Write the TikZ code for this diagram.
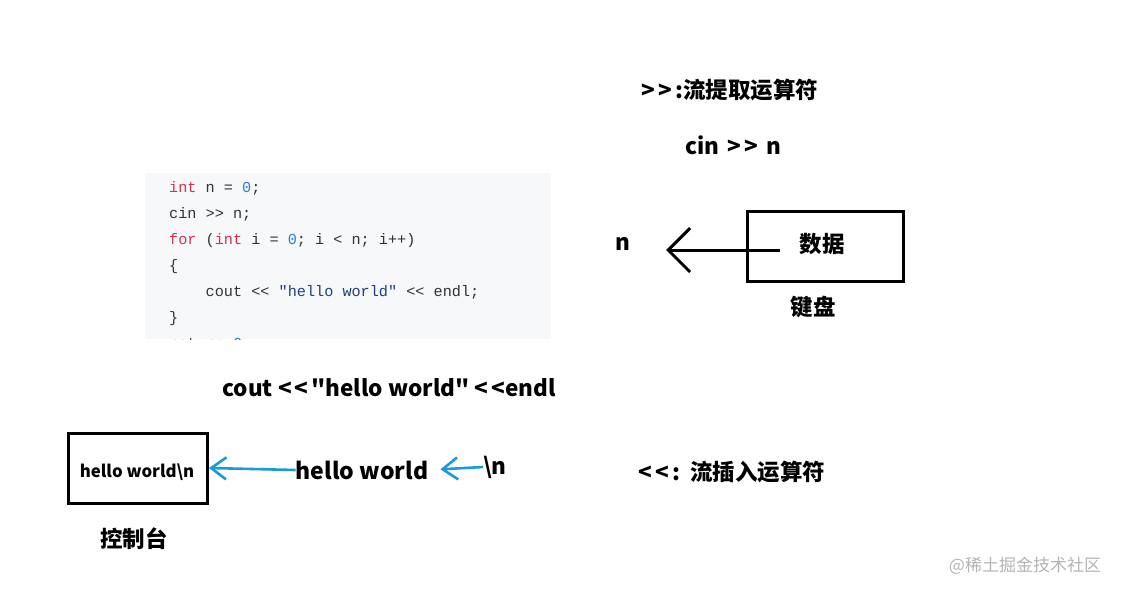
\documentclass[tikz,border=0pt]{standalone}
\usepackage{fontspec}
\setmainfont{Noto Sans CJK SC}[Ligatures=TeXOff]
\setmonofont{Liberation Mono}
\usetikzlibrary{arrows.meta}
\definecolor{kwred}{HTML}{D3334F}
\definecolor{numblue}{HTML}{2A7FD4}
\definecolor{strnavy}{HTML}{1F3F7A}
\definecolor{codegray}{HTML}{333333}
\definecolor{codebg}{HTML}{F6F8FA}
\definecolor{arrowblue}{HTML}{1B9AD8}
\definecolor{markgray}{HTML}{B4B4B4}
\newcommand{\cKw}[1]{\textcolor{kwred}{#1}}
\newcommand{\cNum}[1]{\textcolor{numblue}{#1}}
\newcommand{\cStr}[1]{\textcolor{strnavy}{#1}}
\newcommand{\lblFont}[1]{\fontsize{#1}{#1}\selectfont\bfseries}
\newcommand{\gt}{>\kern3pt}
\newcommand{\lt}{<\kern3pt}

\begin{document}
\begin{tikzpicture}[x=1pt,y=-1pt]
\tikzset{
  lbl/.style={inner sep=0pt, font=\lblFont{22.5}},
  codeline/.style={anchor=base west, inner sep=0pt, text=codegray, font=\fontsize{15.2}{15.2}\selectfont\ttfamily},
  framebox/.style={draw, line width=3pt, inner sep=0pt},
  blackarrow/.style={line width=3pt, -{Straight Barb[length=22pt, width=44pt, line width=3pt]}},
  bluearrow/.style={draw=arrowblue, line width=2.6pt, -{Straight Barb[length=15pt, width=22pt, line width=2.6pt, arrowblue]}}
}
\useasboundingbox[fill=white] (0,0) rectangle (1124,594);
% code listing
\fill[codebg] (145,173) rectangle (551,339);
\node[codeline] (ln1) at (169,192) {\cKw{int} n = \cNum{0};};
\node[codeline] (ln2) at (169,218) {cin >> n;};
\node[codeline] (ln3) at (169,244) {\cKw{for} (\cKw{int} i = \cNum{0}; i < n; i++)};
\node[codeline] (ln4) at (169,270) {\{};
\node[codeline] (ln5) at (169,296) {\ \ \ \ cout << \cStr{"hello world"} << endl;};
\node[codeline] (ln6) at (169,322) {\}};
\begin{scope}
\clip (145,173) rectangle (551,339);
\node[codeline] (ln7) at (169,348) {return \cNum{0};};
\end{scope}
% extraction
\node[lbl] (extract) at (730,90) {\gt\gt:流提取运算符};
\node[lbl] (cinexpr) at (733,145) {cin\kern3pt\ \gt>\kern3pt\ n};
\node[framebox, minimum width=156pt, minimum height=70pt] (data) at (825,246) {};
\node[lbl] (datatext) at (822,244) {数据};
\node[lbl] (keyboard) at (813,307) {键盘};
\node[lbl] (nvar) at (623,244) {n};
\coordinate (datastart) at (780,250);
\coordinate (ntip) at (666,250);
\draw[blackarrow] (datastart) -- (ntip);
% insertion
\node[lbl] (coutexpr) at (389,388) {cout \lt\lt"hello world" \lt<endl};
\node[framebox, minimum width=139pt, minimum height=70pt] (console) at (138,468) {};
\node[lbl, font=\lblFont{16.8}] (context) at (137,472) {hello world\textbackslash n};
\node[lbl] (consolename) at (134,539) {控制台};
\node[lbl, font=\lblFont{23}] (hw) at (362,470) {hello world};
\node[lbl] (newline) at (495,467) {\textbackslash n};
\draw[bluearrow] (hw.west) -- (console.east);
\draw[bluearrow, shorten >=12pt] (newline.west) -- (hw.east);
\node[lbl] (insert) at (732,472) {\lt\lt:\ \ 流插入运算符};
% watermark
\node[inner sep=0pt, text=markgray, font=\fontsize{17}{17}\selectfont] (mark) at (1025,566) {@稀土掘金技术社区};
\end{tikzpicture}
\end{document}
